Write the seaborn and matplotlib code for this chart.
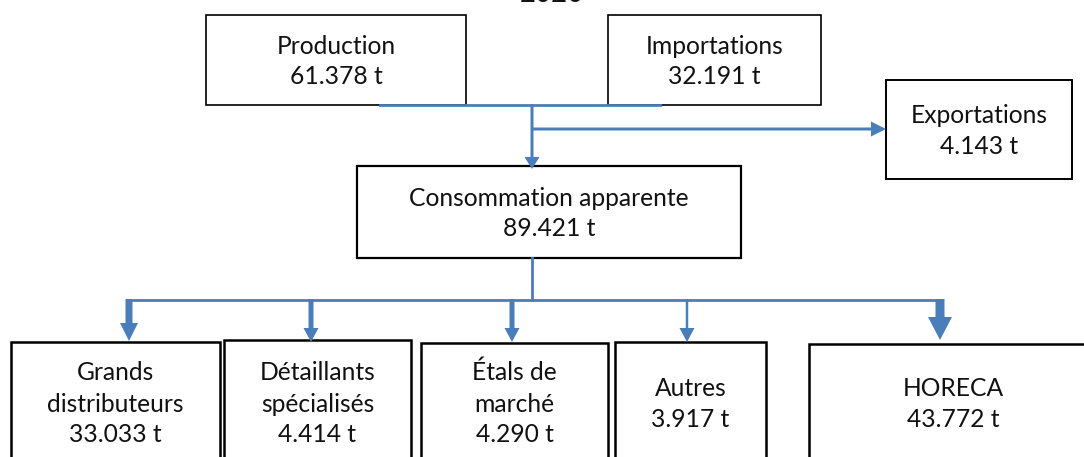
import matplotlib
matplotlib.use("Agg")
import numpy as np
import pandas as pd
import matplotlib.pyplot as plt
import seaborn as sns
from matplotlib.patches import Rectangle, FancyArrow

# flows in tonnes (2020)
YEAR = "2020"
SOURCE_NAMES = ["Production", "Importations"]
SOURCE_TONNES = [61378, 32191]
EXPORT_NAME = "Exportations"
EXPORT_TONNES = 4143
CONSUMPTION_NAME = "Consommation apparente"
CONSUMPTION_TONNES = 89421
CHANNEL_NAMES = ["Grands\ndistributeurs", "Détaillants\nspécialisés",
                 "Étals de\nmarché", "Autres", "HORECA"]
CHANNEL_TONNES = [33033, 4414, 4290, 3917, 43772]

# layout, in pixels (x0, y0, x1, y1), y going down
SOURCE_BOXES = [(206, 15, 466, 105), (608, 15, 821, 105)]
EXPORT_BOX = (886, 80, 1072, 179)
CONSUMPTION_BOX = (357, 166, 741, 258)
CHANNEL_BOXES = [(11, 342, 220, 475), (224, 340, 411, 475), (421, 343, 608, 475),
                 (615, 342, 766, 475), (809, 344, 1097, 475)]
CHANNEL_ARROW_X = [129, 311, 512, 687, 940]
CHANNEL_SHAFT = [7, 5, 5, 2.5, 9]
CHANNEL_HEAD_W = [18, 15, 15, 15, 24]
CHANNEL_HEAD_L = [18, 14, 14, 14, 23]
CHANNEL_TIP_Y = [341, 342, 342, 342, 340]
CHANNEL_TEXT_MID = 411.5
SPLIT_Y = 300
JOIN_X = 532

BLUE = "#4A7EBB"
TEXT = "#111111"
LINE_PITCH = 31
FONT_SIZE = 17.7

sns.set_theme(style="white")
plt.rcParams["font.family"] = ["Lato", "DejaVu Sans"]


def fmt_t(v):
    return f"{v:,}".replace(",", ".") + " t"


def draw_box(ax, box, lines, mid_y=None, lw=1.4):
    x0, y0, x1, y1 = box
    ax.add_patch(Rectangle((x0, y0), x1 - x0, y1 - y0, facecolor="white",
                           edgecolor="black", lw=lw, zorder=1))
    if mid_y is None:
        mid_y = (y0 + y1) / 2 + 9
    first = mid_y - (len(lines) - 1) * LINE_PITCH / 2
    for i, line in enumerate(lines):
        ax.text((x0 + x1) / 2, first + i * LINE_PITCH, line, ha="center",
                va="baseline", fontsize=FONT_SIZE, color=TEXT, zorder=4)


def draw_arrow(ax, x, y, dx, dy, shaft, head_w, head_l):
    ax.add_patch(FancyArrow(x, y, dx, dy, width=shaft, head_width=head_w,
                            head_length=head_l, length_includes_head=True,
                            color=BLUE, lw=0, zorder=3))


fig = plt.figure(figsize=(10.84, 4.57), dpi=100)
ax = fig.add_axes([0, 0, 1, 1])

# boxes
for box, name, val in zip(SOURCE_BOXES, SOURCE_NAMES, SOURCE_TONNES):
    draw_box(ax, box, [name, fmt_t(val)], lw=1.2)
draw_box(ax, EXPORT_BOX, [EXPORT_NAME, fmt_t(EXPORT_TONNES)])
draw_box(ax, CONSUMPTION_BOX, [CONSUMPTION_NAME, fmt_t(CONSUMPTION_TONNES)], lw=1.6)
for box, name, val in zip(CHANNEL_BOXES, CHANNEL_NAMES, CHANNEL_TONNES):
    draw_box(ax, box, name.split("\n") + [fmt_t(val)], mid_y=CHANNEL_TEXT_MID, lw=1.8)

# connector lines (drawn with seaborn)
segs = pd.DataFrame({
    "x": [380, 660, JOIN_X, JOIN_X, CHANNEL_ARROW_X[0], CHANNEL_ARROW_X[-1]],
    "y": [105, 105, 258, SPLIT_Y, SPLIT_Y, SPLIT_Y],
    "seg": [0, 0, 1, 1, 2, 2],
})
sns.lineplot(data=segs, x="x", y="y", units="seg", estimator=None, sort=False,
             color=BLUE, lw=2, ax=ax, zorder=3, solid_capstyle="projecting")

# arrows
draw_arrow(ax, JOIN_X, 104, 0, 166 - 104 + 3, 3, 15, 12)
draw_arrow(ax, JOIN_X, 129, EXPORT_BOX[0] - JOIN_X, 0, 3, 15, 15)
for x, sw, hw, hl, ty in zip(CHANNEL_ARROW_X, CHANNEL_SHAFT, CHANNEL_HEAD_W,
                             CHANNEL_HEAD_L, CHANNEL_TIP_Y):
    draw_arrow(ax, x, SPLIT_Y - 1, 0, ty - SPLIT_Y + 1, sw, hw, hl)

# year title, cut off at the top like in the source
ax.text(552, 2, YEAR, ha="center", va="baseline", fontsize=20, color=TEXT)

ax.set_xlim(0, 1084)
ax.set_ylim(457, 0)
ax.axis("off")
fig.savefig("out.png", dpi=100)
